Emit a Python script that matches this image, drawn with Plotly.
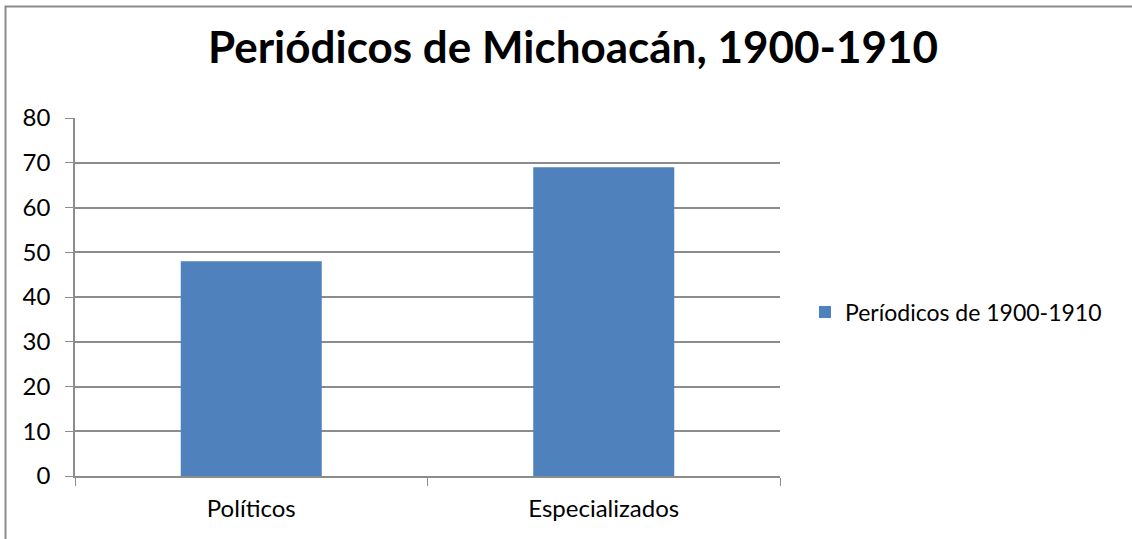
import plotly.graph_objects as go

categories = ["Políticos", "Especializados"]
values = [48, 69]
series_name = "Períodicos de 1900-1910"
title_text = "Periódicos de Michoacán, 1900-1910"
y_ticks = [0, 10, 20, 30, 40, 50, 60, 70, 80]

W, H = 1132, 539
L, R, T, B = 75, 780, 118, 476
pw, ph = R - L, B - T

def px(x):
    return (x - L) / pw

def py(y):
    return (B - y) / ph

FONT = "Lato"
GRID = "#8c8c8c"

fig = go.Figure()
fig.add_trace(go.Bar(
    x=categories, y=values, name=series_name,
    marker=dict(color="#4F81BD", line=dict(width=0)),
    width=0.4, showlegend=True,
))

fig.update_layout(
    width=W, height=H,
    margin=dict(l=L, r=W - R, t=T, b=H - B),
    paper_bgcolor="white", plot_bgcolor="white",
    font=dict(family=FONT, size=24, color="#000000"),
    title=dict(text="<b>" + title_text + "</b>", x=573 / W, xref="container",
               xanchor="center", y=1 - 48 / H, yref="container", yanchor="middle",
               font=dict(family=FONT, size=44, color="#000000")),
    showlegend=True,
    legend=dict(x=px(805), y=py(312), xanchor="left", yanchor="middle",
                font=dict(family=FONT, size=23), bgcolor="rgba(0,0,0,0)",
                itemwidth=30),
    yaxis=dict(range=[0, 80], tickvals=y_ticks, showgrid=True, gridcolor=GRID,
               gridwidth=1.5, showline=True, linecolor=GRID, linewidth=1.5,
               ticks="outside", ticklen=8, tickcolor=GRID, zeroline=False,
               ticklabelstandoff=10, tickfont=dict(size=24)),
    xaxis=dict(showline=True, linecolor=GRID, linewidth=1.5, ticks="outside",
               tickson="boundaries", ticklen=8, tickcolor=GRID, showgrid=False,
               ticklabelstandoff=10, tickfont=dict(size=24)),
    bargap=0.6,
)

# chart area border (left and top edges visible)
fig.add_shape(type="path", xref="paper", yref="paper",
              path=f"M {px(5.5)},{py(H)} L {px(5.5)},{py(6.5)} L {px(W)},{py(6.5)}",
              line=dict(color="#8c8c8c", width=2))

fig.write_html("out.html", config={"displayModeBar": False},
               post_script="document.body.style.margin='0';")
